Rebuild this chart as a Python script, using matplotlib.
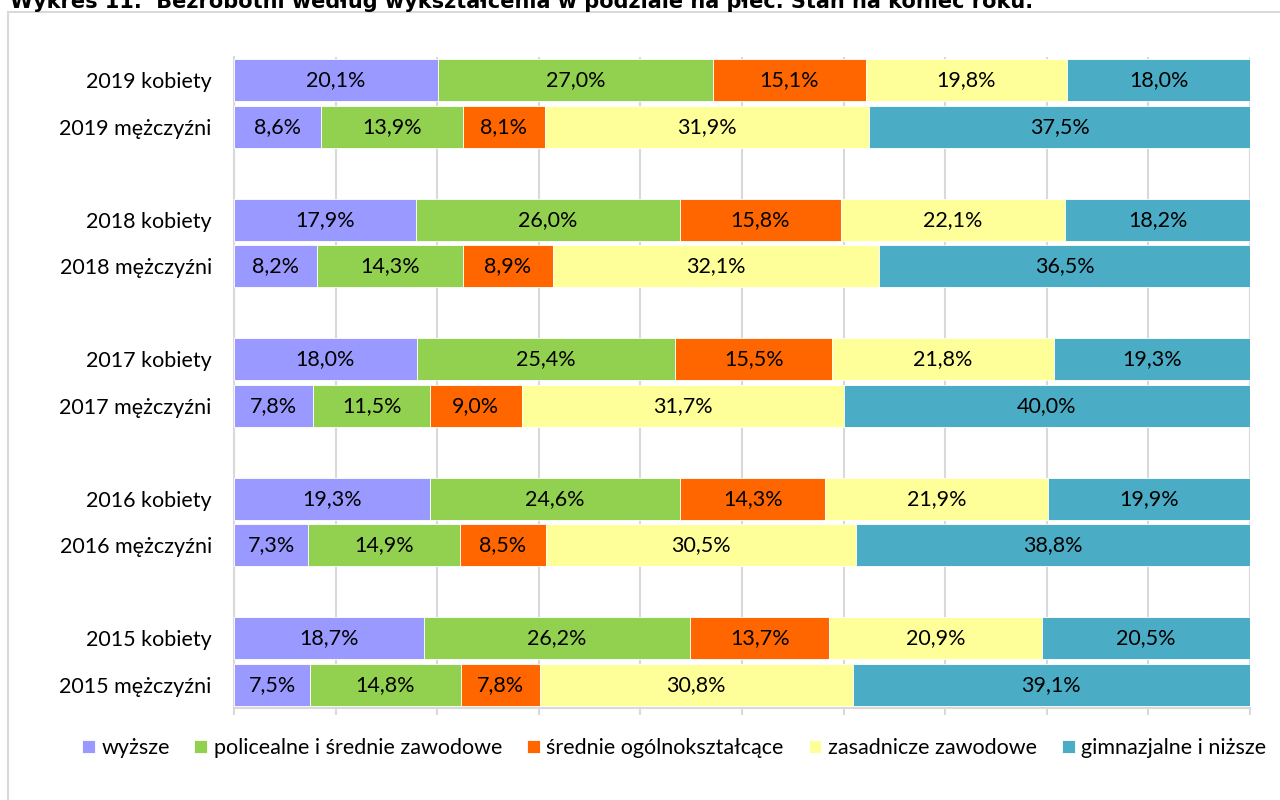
import matplotlib
matplotlib.use("Agg")
import matplotlib.pyplot as plt
from matplotlib.patches import Rectangle
import numpy as np

plt.rcParams['font.family'] = ['Lato', 'DejaVu Sans']

title = "Wykres 11.  Bezrobotni według wykształcenia w podziale na płeć. Stan na koniec roku."
series = ["wyższe", "policealne i średnie zawodowe", "średnie ogólnokształcące",
          "zasadnicze zawodowe", "gimnazjalne i niższe"]
colors = ["#9999FF", "#92D050", "#FF6600", "#FFFF99", "#4BACC6"]

categories = ["2019 kobiety", "2019 mężczyźni", "2018 kobiety", "2018 mężczyźni",
              "2017 kobiety", "2017 mężczyźni", "2016 kobiety", "2016 mężczyźni",
              "2015 kobiety", "2015 mężczyźni"]
wyzsze      = [20.1, 8.6, 17.9, 8.2, 18.0, 7.8, 19.3, 7.3, 18.7, 7.5]
policealne  = [27.0, 13.9, 26.0, 14.3, 25.4, 11.5, 24.6, 14.9, 26.2, 14.8]
srednie     = [15.1, 8.1, 15.8, 8.9, 15.5, 9.0, 14.3, 8.5, 13.7, 7.8]
zasadnicze  = [19.8, 31.9, 22.1, 32.1, 21.8, 31.7, 21.9, 30.5, 20.9, 30.8]
gimnazjalne = [18.0, 37.5, 18.2, 36.5, 19.3, 40.0, 19.9, 38.8, 20.5, 39.1]

data = np.array([wyzsze, policealne, srednie, zasadnicze, gimnazjalne])
shares = data / data.sum(axis=0) * 100

# slot positions: two bars per year, one empty slot between years
pos = []
for i in range(len(categories)):
    pos.append((i // 2) * 3 + (i % 2))
pos = np.array(pos)

fs = 15.5

fig = plt.figure(figsize=(12.8, 8), dpi=100)
# chart border
fig.patches.append(Rectangle((8 / 1280, -0.1), 1.1, (800 - 12) / 800 + 0.1,
                             transform=fig.transFigure, fill=False,
                             edgecolor="#D9D9D9", linewidth=1.5))
fig.text(10 / 1280, 1 - 1 / 800, title, fontsize=15, fontweight="bold",
         family=["Verdana", "DejaVu Sans"], va="center", ha="left")

ax = fig.add_axes([234 / 1280, 1 - 708 / 800, (1250 - 234) / 1280, (708 - 57) / 800])
left = np.zeros(len(categories))
for s, name in enumerate(series):
    ax.barh(pos, shares[s], left=left, height=0.9, color=colors[s],
            edgecolor="white", linewidth=0.6, label=name, zorder=3)
    for p, l, w, v in zip(pos, left, shares[s], data[s]):
        ax.text(l + w / 2, p, f"{v:.1f}%".replace(".", ","), ha="center",
                va="center", fontsize=fs, color="black", zorder=4)
    left += shares[s]

ax.set_xlim(0, 100)
ax.set_ylim(13.5, -0.5)
ax.set_yticks(pos)
ax.set_yticklabels(categories, fontsize=fs)
ax.set_xticks(np.arange(0, 101, 10))
ax.set_xticklabels([])
ax.tick_params(axis="y", length=0, pad=16)
ax.tick_params(axis="x", length=5, color="#D9D9D9", width=1.5)
ax.grid(axis="x", color="#D9D9D9", linewidth=1.5, zorder=0)
for sp in ["top", "right"]:
    ax.spines[sp].set_visible(False)
for sp in ["left", "bottom"]:
    ax.spines[sp].set_color("#D9D9D9")
    ax.spines[sp].set_linewidth(1.5)

fig.legend(loc="center", bbox_to_anchor=(674 / 1280, 1 - 748 / 800), ncol=5,
           frameon=False, fontsize=fs, handlelength=0.6, handleheight=0.6,
           handletextpad=0.3, columnspacing=1.15, borderpad=0.1)

fig.savefig("out.png", dpi=100)
